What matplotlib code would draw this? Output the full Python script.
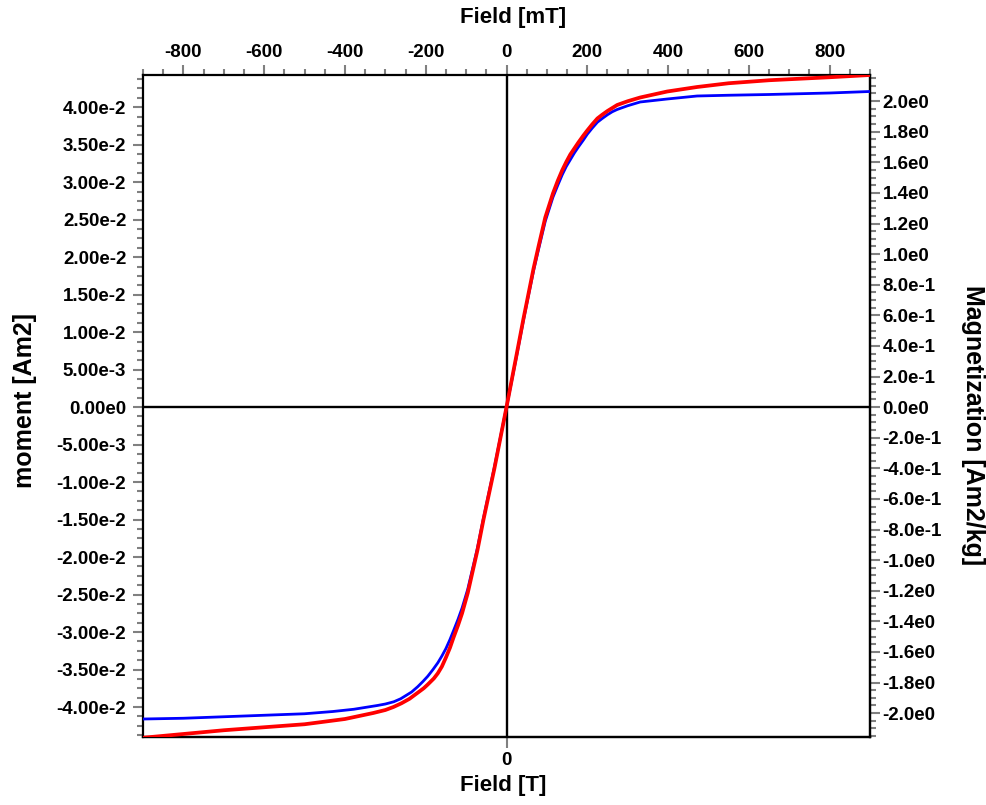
import numpy as np
import matplotlib
matplotlib.use("Agg")
import matplotlib.pyplot as plt
from matplotlib.ticker import MultipleLocator, FuncFormatter, FixedLocator

# Applied field in mT and measured moment in Am2, two runs
field_blue = [-900, -800, -700, -600, -500, -430, -378, -320, -300, -279, -262, -250,
              -235, -220, -207, -195, -182, -170, -160, -150, -140, -131, -120, -110,
              -96, -72, -57, -30, 0, 25, 42, 51, 67, 80, 96, 115, 127, 138, 148, 158,
              168, 178, 190, 200, 212, 225, 237, 250, 262, 274, 300, 331, 398, 472,
              550, 650, 800, 900]
moment_blue = [-0.0416, -0.0415, -0.0413, -0.0411, -0.0409, -0.0406, -0.0403, -0.0398,
               -0.0396, -0.0393, -0.0389, -0.0385, -0.0380, -0.0373, -0.0366, -0.0359,
               -0.0350, -0.0341, -0.0332, -0.0322, -0.0310, -0.0298, -0.0283, -0.0268,
               -0.0243, -0.0188, -0.0148, -0.0080, 0.0, 0.0068, 0.0116, 0.0140, 0.0182,
               0.0212, 0.0248, 0.0280, 0.0296, 0.0310, 0.0321, 0.0330, 0.0339, 0.0347,
               0.0356, 0.0364, 0.0372, 0.0380, 0.0385, 0.0390, 0.0394, 0.0397, 0.0402,
               0.0407, 0.0411, 0.0415, 0.0416, 0.0417, 0.0419, 0.0421]

field_red = [-900, -800, -700, -600, -500, -400, -330, -300, -280, -260, -240, -220,
             -205, -195, -180, -170, -160, -150, -140, -131, -120, -110, -96, -72, -57,
             -30, 0, 25, 42, 51, 67, 80, 96, 115, 127, 138, 148, 158, 168, 178, 190,
             200, 212, 225, 237, 250, 262, 274, 300, 331, 398, 472, 550, 650, 800, 900]
moment_red = [-0.0441, -0.0436, -0.0431, -0.0427, -0.0423, -0.0416, -0.0408, -0.0404,
              -0.0400, -0.0395, -0.0389, -0.0381, -0.0375, -0.0370, -0.0362, -0.0355,
              -0.0346, -0.0334, -0.0321, -0.0307, -0.0291, -0.0275, -0.0248, -0.0191,
              -0.0150, -0.0082, 0.0, 0.0070, 0.0118, 0.0142, 0.0185, 0.0216, 0.0253,
              0.0285, 0.0302, 0.0316, 0.0327, 0.0337, 0.0345, 0.0353, 0.0362, 0.0369,
              0.0377, 0.0385, 0.0390, 0.0395, 0.0399, 0.0403, 0.0408, 0.0413, 0.0421,
              0.0427, 0.0432, 0.0436, 0.0440, 0.0443]

# Sample mass conversion: magnetization = moment / mass
mass_factor = 49.0

plt.rcParams['font.family'] = ['Liberation Sans', 'DejaVu Sans']
plt.rcParams['font.weight'] = 'bold'

W, H = 987, 805
fig = plt.figure(figsize=(W / 100, H / 100), dpi=100)
x0, x1, y0, y1 = 143, 870, 75, 737
ax = fig.add_axes([x0 / W, 1 - y1 / H, (x1 - x0) / W, (y1 - y0) / H])

ax.plot(field_blue, moment_blue, color='#0000ff', lw=2.0, zorder=3,
        solid_joinstyle='round')
ax.plot(field_red, moment_red, color='#ff0000', lw=2.7, zorder=4,
        solid_joinstyle='round')
ax.axhline(0, color='black', lw=1.7, zorder=2)
ax.axvline(0, color='black', lw=1.7, zorder=2)

ax.set_xlim(-900, 900)
ax.set_ylim(-0.0440, 0.0443)

tick_grey = '#808080'
label_fs = 13.5

for s in ax.spines.values():
    s.set_linewidth(1.6)
    s.set_color('black')

# top axis in mT
ax.xaxis.set_ticks_position('top')
ax.xaxis.set_major_locator(MultipleLocator(200))
ax.xaxis.set_minor_locator(MultipleLocator(50))
ax.xaxis.set_major_formatter(FuncFormatter(lambda v, p: f"{int(round(v))}"))

def mom_fmt(v, p):
    v = round(v, 10)
    if v == 0:
        return "0.00e0"
    e = int(np.floor(np.log10(abs(v)) + 1e-9))
    m = v / 10 ** e
    return f"{m:.2f}e{e}"

def mag_fmt(v, p):
    v = round(v, 10)
    if v == 0:
        return "0.0e0"
    e = int(np.floor(np.log10(abs(v)) + 1e-9))
    m = v / 10 ** e
    return f"{m:.1f}e{e}"

ax.yaxis.set_major_locator(MultipleLocator(0.005))
ax.yaxis.set_minor_locator(MultipleLocator(0.00125))
ax.yaxis.set_major_formatter(FuncFormatter(mom_fmt))

ax.tick_params(axis='both', which='major', direction='out', length=7, width=1.5,
               color=tick_grey, labelsize=label_fs, pad=3)
ax.tick_params(axis='both', which='minor', direction='out', length=4, width=1.5,
               color=tick_grey)
ax.tick_params(axis='x', which='major', pad=3)
ax.tick_params(axis='y', which='major', pad=5)

# right axis: magnetization
sec_y = ax.secondary_yaxis('right', functions=(lambda m: m * mass_factor,
                                               lambda M: M / mass_factor))
sec_y.yaxis.set_major_locator(MultipleLocator(0.2))
sec_y.yaxis.set_minor_locator(MultipleLocator(0.05))
sec_y.yaxis.set_major_formatter(FuncFormatter(mag_fmt))
sec_y.tick_params(axis='y', which='major', direction='out', length=7, width=1.5,
                  color=tick_grey, labelsize=label_fs, pad=2)
sec_y.tick_params(axis='y', which='minor', direction='out', length=4, width=1.5,
                  color=tick_grey)
sec_y.spines['right'].set_linewidth(1.6)

# bottom axis: field in T
sec_x = ax.secondary_xaxis('bottom', functions=(lambda f: f / 1000.0,
                                                lambda t: t * 1000.0))
sec_x.xaxis.set_major_locator(FixedLocator([0]))
sec_x.xaxis.set_minor_locator(FixedLocator([]))
sec_x.xaxis.set_major_formatter(FuncFormatter(lambda v, p: "0"))
sec_x.tick_params(axis='x', which='major', direction='out', length=8, width=1.5,
                  color=tick_grey, labelsize=label_fs, pad=3)
sec_x.spines['bottom'].set_linewidth(1.6)

fig.text(513 / W, 1 - 17 / H, "Field [mT]", ha='center', va='center',
         fontsize=16, fontweight='bold')
fig.text(503 / W, 1 - 785 / H, "Field [T]", ha='center', va='center',
         fontsize=16, fontweight='bold')
fig.text(25 / W, 1 - 400 / H, "moment [Am2]", ha='center', va='center',
         rotation=90, fontsize=18, fontweight='bold')
fig.text(973 / W, 1 - 425 / H, "Magnetization [Am2/kg]", ha='center', va='center',
         rotation=270, fontsize=18, fontweight='bold')

fig.savefig("out.png", dpi=100)
